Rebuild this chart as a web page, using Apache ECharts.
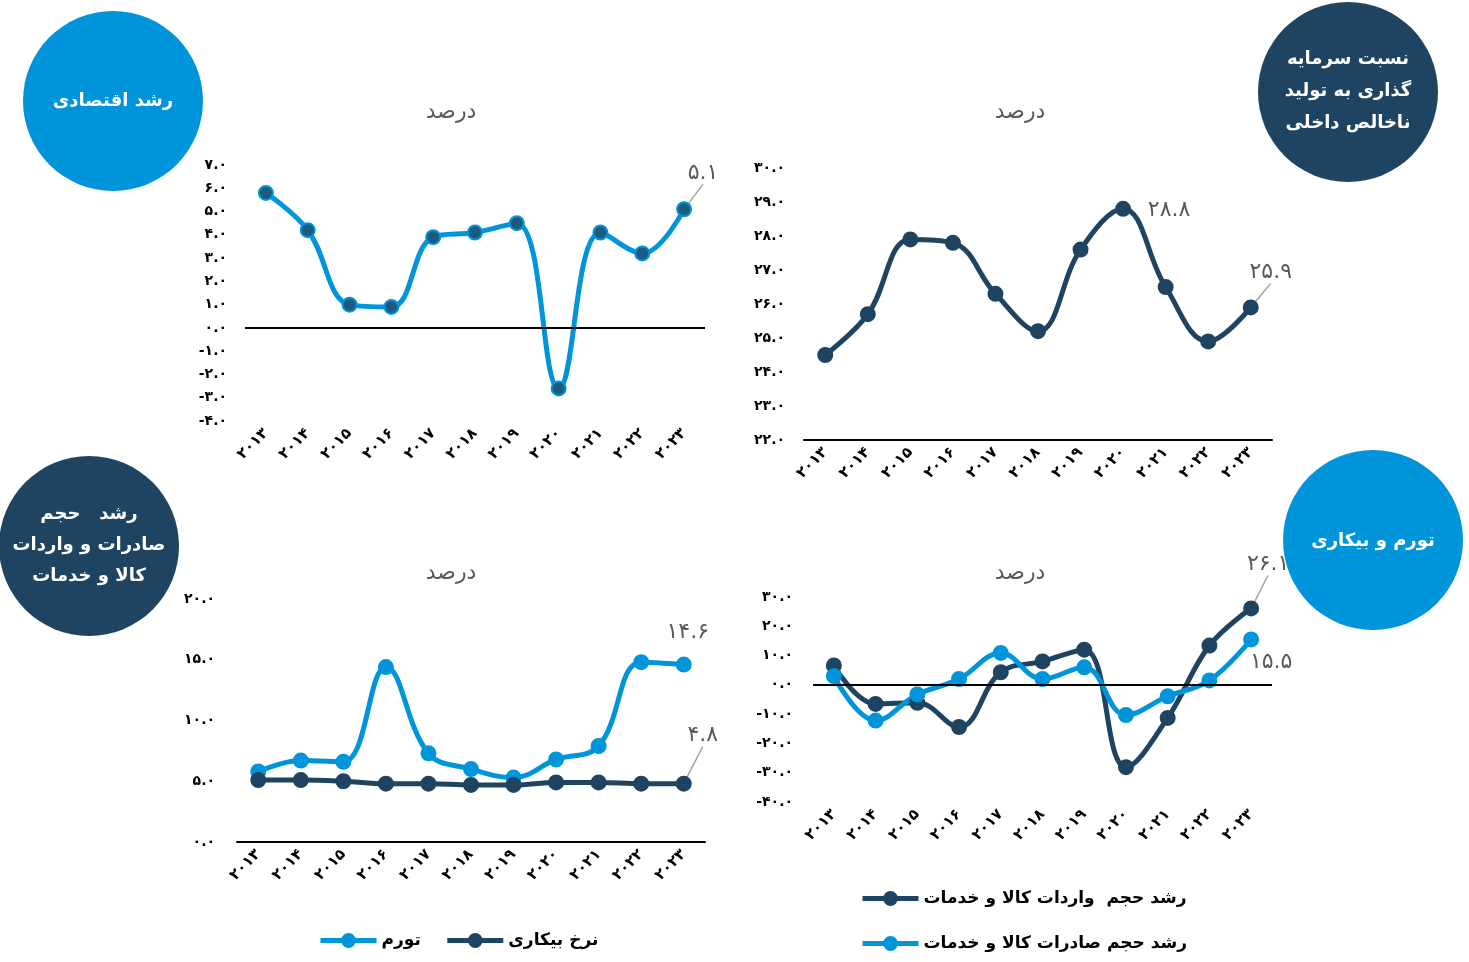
<!DOCTYPE html>
<html>
<head>
<meta charset="utf-8">
<script src="https://cdn.jsdelivr.net/npm/echarts@6/dist/echarts.min.js"></script>
<style>
html,body{margin:0;padding:0;background:#fff;}
#c{width:1469px;height:962px;}
</style>
</head>
<body>
<div id="c"></div>
<script>
// ---------- data ----------
const years = ['2013','2014','2015','2016','2017','2018','2019','2020','2021','2022','2023'];
const gdpGrowth = [5.8, 4.2, 1.0, 0.9, 3.9, 4.1, 4.5, -2.6, 4.1, 3.2, 5.1];
const investRatio = [24.5, 25.7, 27.9, 27.8, 26.3, 25.2, 27.6, 28.8, 26.5, 24.9, 25.9];
const inflation = [5.8, 6.7, 6.6, 14.4, 7.3, 6.0, 5.3, 6.8, 7.9, 14.8, 14.6];
const unemployment = [5.1, 5.1, 5.0, 4.8, 4.8, 4.7, 4.7, 4.9, 4.9, 4.8, 4.8];
const importsGrowth = [6.6, -6.5, -6.1, -14.4, 4.3, 8.0, 12.0, -28.1, -11.3, 13.4, 26.1];
const exportsGrowth = [3.0, -12.2, -3.3, 2.0, 10.9, 2.0, 6.0, -10.3, -3.9, 1.5, 15.5];
const unitTitle = 'درصد';
const nameInflation = 'تورم';
const nameUnemployment = 'نرخ بیکاری';
const nameImports = 'رشد حجم  واردات کالا و خدمات';
const nameExports = 'رشد حجم صادرات کالا و خدمات';
const circleTitles = ['رشد اقتصادی', 'نسبت سرمایه\nگذاری به تولید\nناخالص داخلی', 'رشد   حجم\nصادرات و واردات\nکالا و خدمات', 'تورم و بیکاری'];

// ---------- helpers ----------
const FA = ['۰','۱','۲','۳','۴','۵','۶','۷','۸','۹'];
const fa = s => String(s).replace(/\d/g, d => FA[+d]);
const FONT = 'DejaVu Sans';
const LIGHT = '#0095DB';
const DARK = '#1F4461';
const LABEL_GRAY = '#595959';

const chart = echarts.init(document.getElementById('c'));

function xAxisCfg(gi){
  return {
    type:'category', gridIndex:gi, data:years, boundaryGap:true,
    axisLine:{show:gi===1||gi===2, onZero:false, lineStyle:{color:'#000', width:2}},
    axisTick:{show:false},
    axisLabel:{rotate:45, margin:10, fontSize:15, fontWeight:'bold', color:'#000', fontFamily:FONT, formatter:v=>fa(v)},
    splitLine:{show:false}
  };
}
function yAxisCfg(gi, min, max, interval, margin){
  return {
    type:'value', gridIndex:gi, min, max, interval,
    axisLine:{show:false}, axisTick:{show:false}, splitLine:{show:false},
    axisLabel:{margin, fontSize:14, fontWeight:'bold', color:'#000', fontFamily:FONT, formatter:v=>fa(v.toFixed(1))}
  };
}
const zeroLine = {silent:true, symbol:'none', label:{show:false}, lineStyle:{color:'#000', width:2, type:'solid'}, data:[{yAxis:0}]};

function lastLabel(v, lineShow){
  return {
    value:v,
    label:{show:true, position:'top', fontSize:22, color:LABEL_GRAY, fontFamily:FONT, formatter:p=>fa(p.value.toFixed(1))},
    labelLine:{show:lineShow, lineStyle:{color:'#A6A6A6', width:1.5}}
  };
}
function withLabels(arr, labelled){
  return arr.map((v,i)=> labelled[i]!==undefined ? lastLabel(v, labelled[i]) : v);
}
function layoutFn(offsets){
  return p => offsets[p.dataIndex] ? {dx:offsets[p.dataIndex][0], dy:offsets[p.dataIndex][1]} : {};
}

function lineSeries(name, data, xi, color, fill, extra){
  return Object.assign({
    name, type:'line', xAxisIndex:xi, yAxisIndex:xi, data,
    smooth:0.4, symbol:'circle', symbolSize:14,
    lineStyle:{color, width:5},
    itemStyle:{color:fill, borderColor:color, borderWidth:2},
    emphasis:{disabled:true},
    z:3
  }, extra||{});
}

const legendText = {fontSize:17, fontWeight:'bold', color:'#000', fontFamily:FONT};
const option = {
  animation:false,
  backgroundColor:'#fff',
  textStyle:{fontFamily:FONT},
  grid:[
    {left:245, top:165, width:460, height:256},
    {left:804, top:168, width:468, height:272},
    {left:237, top:599, width:468, height:243},
    {left:813, top:597, width:459, height:205}
  ],
  xAxis:[xAxisCfg(0), xAxisCfg(1), xAxisCfg(2), xAxisCfg(3)],
  yAxis:[
    yAxisCfg(0, -4, 7, 1, 18),
    yAxisCfg(1, 22, 30, 1, 19),
    yAxisCfg(2, 0, 20, 5, 22),
    yAxisCfg(3, -40, 30, 10, 20)
  ],
  legend:[
    {data:[nameInflation, nameUnemployment], left:318, top:932, padding:0, itemWidth:56, itemHeight:16, itemGap:24,
     lineStyle:{width:5}, textStyle:legendText},
    {data:[nameImports, nameExports], orient:'vertical', left:860, top:890, padding:0, itemWidth:56, itemHeight:16, itemGap:28,
     lineStyle:{width:5}, textStyle:legendText}
  ],
  series:[
    lineSeries('gdp', withLabels(gdpGrowth, {10:true}), 0, LIGHT, '#1D5B7E',
      {markLine:zeroLine, labelLayout:layoutFn({10:[19,-12]})}),
    lineSeries('invest', withLabels(investRatio, {7:false, 10:true}), 1, DARK, DARK,
      {labelLayout:layoutFn({7:[46,25], 10:[20,-11]})}),
    lineSeries(nameInflation, withLabels(inflation, {10:false}), 2, LIGHT, LIGHT,
      {labelLayout:layoutFn({10:[4,-8]})}),
    lineSeries(nameUnemployment, withLabels(unemployment, {10:true}), 2, DARK, DARK,
      {labelLayout:layoutFn({10:[19,-24]})}),
    lineSeries(nameImports, withLabels(importsGrowth, {10:true}), 3, DARK, DARK,
      {markLine:zeroLine, labelLayout:layoutFn({10:[17,-20]})}),
    lineSeries(nameExports, withLabels(exportsGrowth, {10:false}), 3, LIGHT, LIGHT,
      {labelLayout:layoutFn({10:[20,47]})})
  ],
  graphic:[
    {type:'text', x:451, y:112, z:50, style:{text:unitTitle, fill:LABEL_GRAY, font:'22px "'+FONT+'"', textAlign:'center', textVerticalAlign:'middle'}},
    {type:'text', x:1020, y:112, z:50, style:{text:unitTitle, fill:LABEL_GRAY, font:'22px "'+FONT+'"', textAlign:'center', textVerticalAlign:'middle'}},
    {type:'text', x:451, y:573, z:50, style:{text:unitTitle, fill:LABEL_GRAY, font:'22px "'+FONT+'"', textAlign:'center', textVerticalAlign:'middle'}},
    {type:'text', x:1020, y:573, z:50, style:{text:unitTitle, fill:LABEL_GRAY, font:'22px "'+FONT+'"', textAlign:'center', textVerticalAlign:'middle'}},
    {type:'circle', z:100, shape:{cx:113, cy:101, r:90}, style:{fill:LIGHT}},
    {type:'circle', z:100, shape:{cx:1348, cy:92, r:90}, style:{fill:DARK}},
    {type:'circle', z:100, shape:{cx:89, cy:546, r:90}, style:{fill:DARK}},
    {type:'circle', z:100, shape:{cx:1373, cy:540, r:90}, style:{fill:LIGHT}},
    {type:'text', z:101, x:113, y:101, style:{text:circleTitles[0], fill:'#fff', font:'bold 18px "'+FONT+'"', textAlign:'center', textVerticalAlign:'middle'}},
    {type:'text', z:101, x:1348, y:91, style:{text:circleTitles[1], fill:'#fff', font:'bold 18px "'+FONT+'"', lineHeight:32, textAlign:'center', textVerticalAlign:'middle'}},
    {type:'text', z:101, x:89, y:545, style:{text:circleTitles[2], fill:'#fff', font:'bold 18px "'+FONT+'"', lineHeight:31, textAlign:'center', textVerticalAlign:'middle'}},
    {type:'text', z:101, x:1373, y:541, style:{text:circleTitles[3], fill:'#fff', font:'bold 18px "'+FONT+'"', textAlign:'center', textVerticalAlign:'middle'}}
  ]
};
chart.setOption(option);
</script>
</body>
</html>
